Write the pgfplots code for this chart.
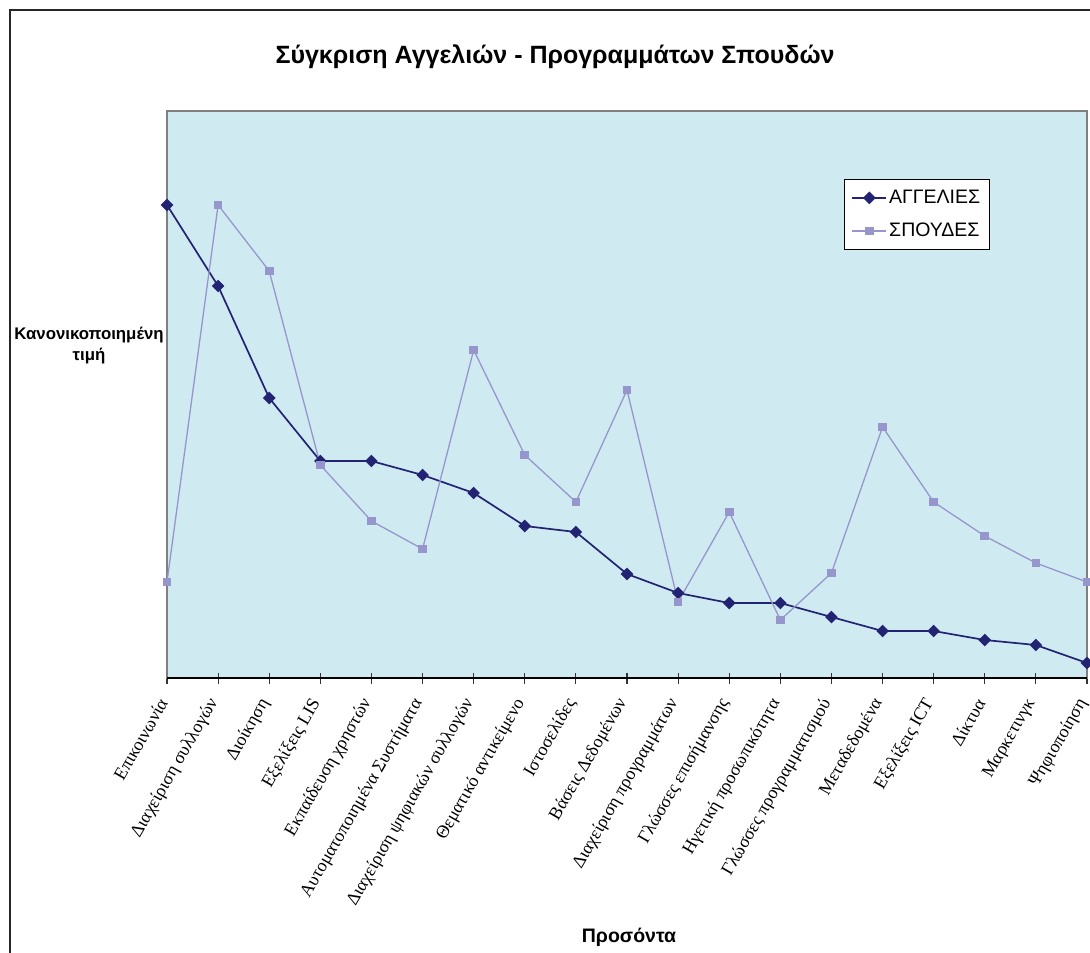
\documentclass[border=0pt]{standalone}
\usepackage{fontspec}
\setmainfont{Liberation Sans}
\newfontfamily\serifgr{Liberation Serif}
\usepackage{pgfplots}
\pgfplotsset{compat=1.18}

\definecolor{navy}{RGB}{35,35,115}
\definecolor{lav}{RGB}{150,150,205}
\definecolor{plotbg}{RGB}{207,235,241}

% y = 678 - pixel row, plot area 567 high
\pgfplotstableread{
x agg spo
0  473  96
1  392 473
2  280 407
3  217 213
4  217 157
5  203 129
6  185 328
7  152 223
8  146 176
9  104 288
10  85  76
11  75 166
12  75  58
13  61 105
14  47 251
15  47 176
16  38 142
17  33 115
18  15  96
}\data

\begin{document}
\begin{tikzpicture}
\useasboundingbox (0,0) rectangle (1090pt,-953pt);
\draw[line width=2pt, black!85] (10pt,-1000pt) |- (1100pt,-10pt);

\begin{axis}[
  at={(167pt,-678pt)}, anchor=south west,
  scale only axis, width=920pt, height=567pt,
  xmin=0, xmax=18, ymin=0, ymax=567,
  clip=false,
  axis background/.style={fill=plotbg},
  axis line style={draw=gray, line width=1.5pt},
  xtick=data, ytick=\empty, xtick pos=bottom,
  xticklabels={Επικοινωνία, Διαχείριση συλλογών, Διοίκηση, Εξελίξεις LIS,
    Εκπαίδευση χρηστών, Αυτοματοποιημένα Συστήματα, Διαχείριση ψηφιακών συλλογών,
    Θεματικό αντικείμενο, Ιστοσελίδες, Βάσεις Δεδομένων, Διαχείριση προγραμμάτων,
    Γλώσσες επισήμανσης, Ηγετική προσωπικότητα, Γλώσσες προγραμματισμού,
    Μεταδεδομένα, Εξελίξεις ICT, Δίκτυα, Μαρκετινγκ, Ψηφιοποίηση},
  xticklabel style={font=\serifgr\fontsize{18}{21}\selectfont, yshift=-15pt, xshift=-3pt,
    rotate=60, anchor=east, inner sep=2pt},
  tick align=center, major tick length=11pt,
  every tick/.style={black!80, line width=1.2pt},
  legend style={at={(0.736,0.880)}, anchor=north west, draw=black, line width=0.8pt,
    fill=white, font=\fontsize{19.5}{23}\selectfont, row sep=14pt,
    inner xsep=7pt, inner ysep=9pt},
  legend cell align=left,
  legend image code/.code={\draw[mark repeat=2, mark phase=2]
    plot coordinates {(0pt,0pt) (17pt,0pt) (34pt,0pt)};},
]
\addplot[navy, line width=1.7pt, mark=square*, mark size=3.6pt,
  mark options={fill=navy, rotate=45}] table[x=x, y=agg] {\data};
\addplot[lav, line width=1.3pt, mark=square*, mark size=3.7pt,
  mark options={fill=lav}] table[x=x, y=spo] {\data};
\legend{ΑΓΓΕΛΙΕΣ, ΣΠΟΥΔΕΣ}
\draw[black, line width=1.6pt] (axis cs:0,0) -- (axis cs:18,0);
\end{axis}

\node[font=\bfseries\fontsize{25}{30}\selectfont] at (555pt,-57pt) {Σύγκριση Αγγελιών - Προγραμμάτων Σπουδών};
\node[font=\bfseries\fontsize{16.8}{21}\selectfont, align=center] at (89pt,-346pt) {Κανονικοποιημένη\\τιμή};
\node[font=\bfseries\fontsize{19.5}{23}\selectfont] at (629pt,-937pt) {Προσόντα};
\end{tikzpicture}
\end{document}
